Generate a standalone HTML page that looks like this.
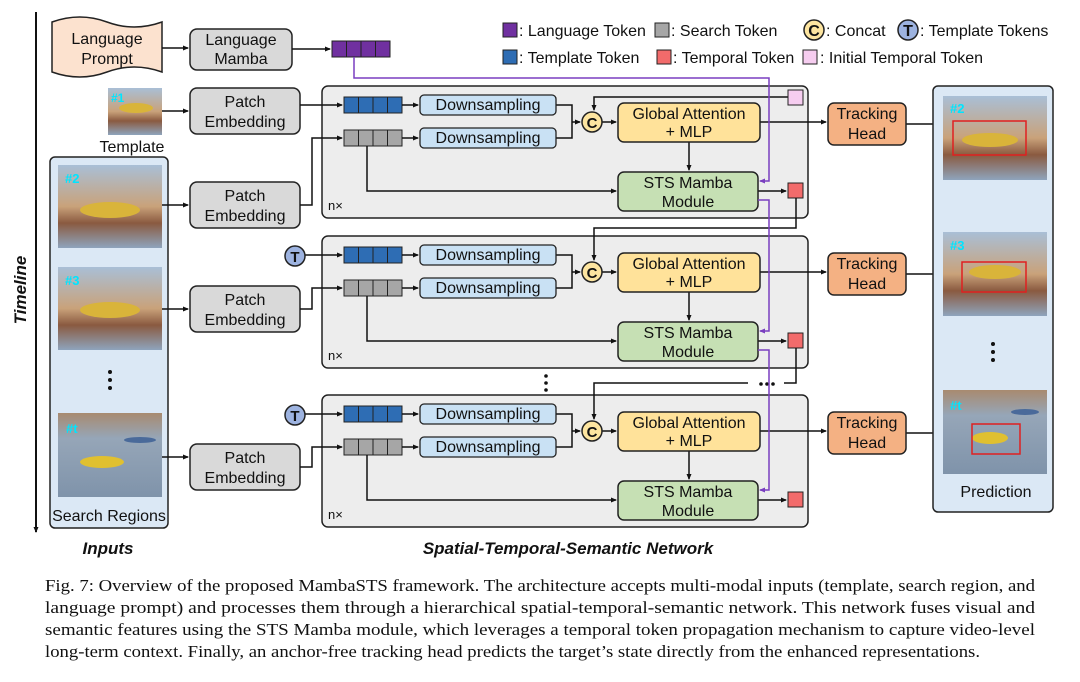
<!DOCTYPE html>
<html><head><meta charset="utf-8"><style>
html,body{margin:0;padding:0;background:#fff;}
svg{display:block;}
text{font-family:"Liberation Sans",sans-serif;fill:#111;}
.t{font-size:16px;text-anchor:middle;}
.cap{font-family:"Liberation Serif",serif;font-size:16.5px;}
</style></head><body>
<svg width="1080" height="682" viewBox="0 0 1080 682" xmlns="http://www.w3.org/2000/svg">
<defs>
<marker id="a" markerWidth="6" markerHeight="6" refX="5" refY="3" orient="auto" markerUnits="userSpaceOnUse"><path d="M0,0.5 L6,3 L0,5.5z" fill="#111"/></marker>
<marker id="ap" markerWidth="6" markerHeight="6" refX="5" refY="3" orient="auto" markerUnits="userSpaceOnUse"><path d="M0,0.5 L6,3 L0,5.5z" fill="#7a3fc0"/></marker>
<linearGradient id="sky1" x1="0" y1="0" x2="0" y2="1"><stop offset="0" stop-color="#a9bfd6"/><stop offset="0.5" stop-color="#c9a27a"/><stop offset="0.7" stop-color="#8a5a40"/><stop offset="1" stop-color="#8ea4bc"/></linearGradient>
<linearGradient id="sky2" x1="0" y1="0" x2="0" y2="1"><stop offset="0" stop-color="#a88a70"/><stop offset="0.3" stop-color="#96a6b8"/><stop offset="1" stop-color="#7f93aa"/></linearGradient>
</defs>

<line x1="36" y1="12" x2="36" y2="532" stroke="#111" stroke-width="2" marker-end="url(#a)"/>
<text transform="translate(26,290) rotate(-90)" style="font-size:17px;font-weight:bold;font-style:italic;text-anchor:middle">Timeline</text>

<path d="M52,22 Q80,12 107,22 Q134,32 162,22 L162,72 Q134,62 107,72 Q80,82 52,72 Z" fill="#fce2cf" stroke="#222" stroke-width="1.5"/>
<text class="t" x="107" y="44">Language</text>
<text class="t" x="107" y="64">Prompt</text>
<line x1="162" y1="48" x2="188" y2="48" stroke="#111" stroke-width="1.5" marker-end="url(#a)"/>
<rect x="190" y="29" width="102" height="41" rx="7" fill="#d9d9d9" stroke="#222" stroke-width="1.5"/>
<text class="t" x="241" y="45">Language</text>
<text class="t" x="241" y="64">Mamba</text>
<line x1="292" y1="49" x2="330" y2="49" stroke="#111" stroke-width="1.5" marker-end="url(#a)"/>
<g fill="#7030a0" stroke="#222" stroke-width="1"><rect x="332" y="41" width="14.5" height="16"/><rect x="346.5" y="41" width="14.5" height="16"/><rect x="361" y="41" width="14.5" height="16"/><rect x="375.5" y="41" width="14.5" height="16"/></g>

<g style="font-size:16px">
<rect x="503" y="23" width="14" height="14" fill="#7030a0" stroke="#222"/><text x="519" y="36">: Language Token</text>
<rect x="655" y="23" width="14" height="14" fill="#a6a6a6" stroke="#222"/><text x="671" y="36">: Search Token</text>
<circle cx="814" cy="30" r="10" fill="#fde5a0" stroke="#222" stroke-width="1.5"/><text x="814" y="36" style="font-weight:bold;text-anchor:middle">C</text><text x="826" y="36">: Concat</text>
<circle cx="908" cy="30" r="10" fill="#9db3e0" stroke="#222" stroke-width="1.5"/><text x="908" y="36" style="font-weight:bold;text-anchor:middle">T</text><text x="920" y="36">: Template Tokens</text>
<rect x="503" y="50" width="14" height="14" fill="#2e6db4" stroke="#222"/><text x="519" y="63">: Template Token</text>
<rect x="657" y="50" width="14" height="14" fill="#f26b6b" stroke="#222"/><text x="673" y="63">: Temporal Token</text>
<rect x="803" y="50" width="14" height="14" fill="#f6cdf0" stroke="#222"/><text x="820" y="63">: Initial Temporal Token</text>
</g>

<rect x="108" y="88" width="54" height="47" fill="url(#sky1)"/>
<ellipse cx="136" cy="108" rx="17" ry="5" fill="#d9b43a"/>
<text x="111" y="102" style="font-size:12px;font-weight:bold;fill:#00e5ff">#1</text>
<text class="t" x="132" y="152">Template</text>
<line x1="162" y1="111" x2="188" y2="111" stroke="#111" stroke-width="1.5" marker-end="url(#a)"/>

<rect x="50" y="157" width="118" height="371" rx="5" fill="#dbe8f5" stroke="#222" stroke-width="1.5"/>
<rect x="58" y="165" width="104" height="83" fill="url(#sky1)"/>
<ellipse cx="110" cy="210" rx="30" ry="8" fill="#d9b43a"/>
<text x="65" y="183" style="font-size:13px;font-weight:bold;fill:#00e5ff">#2</text>
<rect x="58" y="267" width="104" height="83" fill="url(#sky1)"/>
<ellipse cx="110" cy="310" rx="30" ry="8" fill="#d9b43a"/>
<text x="65" y="285" style="font-size:13px;font-weight:bold;fill:#00e5ff">#3</text>
<g fill="#111"><circle cx="110" cy="372" r="2"/><circle cx="110" cy="380" r="2"/><circle cx="110" cy="388" r="2"/></g>
<rect x="58" y="413" width="104" height="84" fill="url(#sky2)"/>
<ellipse cx="102" cy="462" rx="22" ry="6" fill="#e0c030"/>
<ellipse cx="140" cy="440" rx="16" ry="3" fill="#4a6a9a"/>
<text x="66" y="433" style="font-size:13px;font-weight:bold;fill:#00e5ff">#t</text>
<text class="t" x="109" y="521">Search Regions</text>
<g stroke="#111" stroke-width="1.5">
<line x1="162" y1="205" x2="188" y2="205" marker-end="url(#a)"/>
<line x1="162" y1="309" x2="188" y2="309" marker-end="url(#a)"/>
<line x1="162" y1="457" x2="188" y2="457" marker-end="url(#a)"/>
</g>

<g fill="#d9d9d9" stroke="#222" stroke-width="1.5">
<rect x="190" y="88" width="110" height="46" rx="7"/>
<rect x="190" y="182" width="110" height="46" rx="7"/>
<rect x="190" y="286" width="110" height="46" rx="7"/>
<rect x="190" y="444" width="110" height="46" rx="7"/>
</g>
<text class="t" x="245" y="107">Patch</text><text class="t" x="245" y="127">Embedding</text>
<text class="t" x="245" y="201">Patch</text><text class="t" x="245" y="221">Embedding</text>
<text class="t" x="245" y="305">Patch</text><text class="t" x="245" y="325">Embedding</text>
<text class="t" x="245" y="463">Patch</text><text class="t" x="245" y="483">Embedding</text>

<g>
<rect x="322" y="86" width="486" height="132" rx="6" fill="#ededed" stroke="#222" stroke-width="1.5"/>
<g fill="#2e6db4" stroke="#222" stroke-width="1"><rect x="344" y="97" width="14.5" height="16"/><rect x="358.5" y="97" width="14.5" height="16"/><rect x="373" y="97" width="14.5" height="16"/><rect x="387.5" y="97" width="14.5" height="16"/></g>
<g fill="#a6a6a6" stroke="#222" stroke-width="1"><rect x="344" y="130" width="14.5" height="16"/><rect x="358.5" y="130" width="14.5" height="16"/><rect x="373" y="130" width="14.5" height="16"/><rect x="387.5" y="130" width="14.5" height="16"/></g>
<g stroke="#111" stroke-width="1.5" fill="none">
<line x1="402" y1="105" x2="418" y2="105" marker-end="url(#a)"/>
<line x1="402" y1="138" x2="418" y2="138" marker-end="url(#a)"/>
<path d="M556,105 H572 V138 H556"/>
<line x1="572" y1="122" x2="580" y2="122" marker-end="url(#a)"/>
<line x1="602" y1="122" x2="616" y2="122" marker-end="url(#a)"/>
<line x1="689" y1="142" x2="689" y2="170" marker-end="url(#a)"/>
<path d="M367,146 V191 H616" marker-end="url(#a)"/>
<line x1="758" y1="191" x2="786" y2="191" marker-end="url(#a)"/>
<line x1="760" y1="122" x2="826" y2="122" marker-end="url(#a)"/>
<line x1="906" y1="124" x2="941" y2="124" marker-end="url(#a)"/>
</g>
<rect x="420" y="95" width="136" height="20" rx="4" fill="#c9e1f4" stroke="#222" stroke-width="1.3"/>
<rect x="420" y="128" width="136" height="20" rx="4" fill="#c9e1f4" stroke="#222" stroke-width="1.3"/>
<text class="t" x="488" y="110">Downsampling</text>
<text class="t" x="488" y="143">Downsampling</text>
<circle cx="592" cy="122" r="10" fill="#fde5a0" stroke="#222" stroke-width="1.5"/>
<text x="592" y="128" style="font-size:15px;font-weight:bold;text-anchor:middle">C</text>
<rect x="618" y="103" width="142" height="39" rx="6" fill="#ffe29a" stroke="#222" stroke-width="1.5"/>
<text class="t" x="689" y="119">Global Attention</text><text class="t" x="689" y="137">+ MLP</text>
<rect x="618" y="172" width="140" height="39" rx="6" fill="#c6e0b4" stroke="#222" stroke-width="1.5"/>
<text class="t" x="688" y="188">STS Mamba</text><text class="t" x="688" y="207">Module</text>
<rect x="788" y="183" width="15" height="15" fill="#f26b6b" stroke="#222"/>
<rect x="828" y="103" width="78" height="42" rx="6" fill="#f4b183" stroke="#222" stroke-width="1.5"/>
<text class="t" x="867" y="119">Tracking</text><text class="t" x="867" y="139">Head</text>
<text x="328" y="210" style="font-size:13px">n×</text>
</g>
<g transform="translate(0,150)">
<rect x="322" y="86" width="486" height="132" rx="6" fill="#ededed" stroke="#222" stroke-width="1.5"/>
<g fill="#2e6db4" stroke="#222" stroke-width="1"><rect x="344" y="97" width="14.5" height="16"/><rect x="358.5" y="97" width="14.5" height="16"/><rect x="373" y="97" width="14.5" height="16"/><rect x="387.5" y="97" width="14.5" height="16"/></g>
<g fill="#a6a6a6" stroke="#222" stroke-width="1"><rect x="344" y="130" width="14.5" height="16"/><rect x="358.5" y="130" width="14.5" height="16"/><rect x="373" y="130" width="14.5" height="16"/><rect x="387.5" y="130" width="14.5" height="16"/></g>
<g stroke="#111" stroke-width="1.5" fill="none">
<line x1="402" y1="105" x2="418" y2="105" marker-end="url(#a)"/>
<line x1="402" y1="138" x2="418" y2="138" marker-end="url(#a)"/>
<path d="M556,105 H572 V138 H556"/>
<line x1="572" y1="122" x2="580" y2="122" marker-end="url(#a)"/>
<line x1="602" y1="122" x2="616" y2="122" marker-end="url(#a)"/>
<line x1="689" y1="142" x2="689" y2="170" marker-end="url(#a)"/>
<path d="M367,146 V191 H616" marker-end="url(#a)"/>
<line x1="758" y1="191" x2="786" y2="191" marker-end="url(#a)"/>
<line x1="760" y1="122" x2="826" y2="122" marker-end="url(#a)"/>
<line x1="906" y1="124" x2="941" y2="124" marker-end="url(#a)"/>
<line x1="305" y1="105" x2="342" y2="105" marker-end="url(#a)"/>
</g>
<rect x="420" y="95" width="136" height="20" rx="4" fill="#c9e1f4" stroke="#222" stroke-width="1.3"/>
<rect x="420" y="128" width="136" height="20" rx="4" fill="#c9e1f4" stroke="#222" stroke-width="1.3"/>
<text class="t" x="488" y="110">Downsampling</text>
<text class="t" x="488" y="143">Downsampling</text>
<circle cx="592" cy="122" r="10" fill="#fde5a0" stroke="#222" stroke-width="1.5"/>
<text x="592" y="128" style="font-size:15px;font-weight:bold;text-anchor:middle">C</text>
<rect x="618" y="103" width="142" height="39" rx="6" fill="#ffe29a" stroke="#222" stroke-width="1.5"/>
<text class="t" x="689" y="119">Global Attention</text><text class="t" x="689" y="137">+ MLP</text>
<rect x="618" y="172" width="140" height="39" rx="6" fill="#c6e0b4" stroke="#222" stroke-width="1.5"/>
<text class="t" x="688" y="188">STS Mamba</text><text class="t" x="688" y="207">Module</text>
<rect x="788" y="183" width="15" height="15" fill="#f26b6b" stroke="#222"/>
<rect x="828" y="103" width="78" height="42" rx="6" fill="#f4b183" stroke="#222" stroke-width="1.5"/>
<text class="t" x="867" y="119">Tracking</text><text class="t" x="867" y="139">Head</text>
<text x="328" y="210" style="font-size:13px">n×</text>
<circle cx="295" cy="106" r="10" fill="#9db3e0" stroke="#222" stroke-width="1.5"/>
<text x="295" y="112" style="font-size:15px;font-weight:bold;text-anchor:middle">T</text>
</g>
<g transform="translate(0,309)">
<rect x="322" y="86" width="486" height="132" rx="6" fill="#ededed" stroke="#222" stroke-width="1.5"/>
<g fill="#2e6db4" stroke="#222" stroke-width="1"><rect x="344" y="97" width="14.5" height="16"/><rect x="358.5" y="97" width="14.5" height="16"/><rect x="373" y="97" width="14.5" height="16"/><rect x="387.5" y="97" width="14.5" height="16"/></g>
<g fill="#a6a6a6" stroke="#222" stroke-width="1"><rect x="344" y="130" width="14.5" height="16"/><rect x="358.5" y="130" width="14.5" height="16"/><rect x="373" y="130" width="14.5" height="16"/><rect x="387.5" y="130" width="14.5" height="16"/></g>
<g stroke="#111" stroke-width="1.5" fill="none">
<line x1="402" y1="105" x2="418" y2="105" marker-end="url(#a)"/>
<line x1="402" y1="138" x2="418" y2="138" marker-end="url(#a)"/>
<path d="M556,105 H572 V138 H556"/>
<line x1="572" y1="122" x2="580" y2="122" marker-end="url(#a)"/>
<line x1="602" y1="122" x2="616" y2="122" marker-end="url(#a)"/>
<line x1="689" y1="142" x2="689" y2="170" marker-end="url(#a)"/>
<path d="M367,146 V191 H616" marker-end="url(#a)"/>
<line x1="758" y1="191" x2="786" y2="191" marker-end="url(#a)"/>
<line x1="760" y1="122" x2="826" y2="122" marker-end="url(#a)"/>
<line x1="906" y1="124" x2="941" y2="124" marker-end="url(#a)"/>
<line x1="305" y1="105" x2="342" y2="105" marker-end="url(#a)"/>
</g>
<rect x="420" y="95" width="136" height="20" rx="4" fill="#c9e1f4" stroke="#222" stroke-width="1.3"/>
<rect x="420" y="128" width="136" height="20" rx="4" fill="#c9e1f4" stroke="#222" stroke-width="1.3"/>
<text class="t" x="488" y="110">Downsampling</text>
<text class="t" x="488" y="143">Downsampling</text>
<circle cx="592" cy="122" r="10" fill="#fde5a0" stroke="#222" stroke-width="1.5"/>
<text x="592" y="128" style="font-size:15px;font-weight:bold;text-anchor:middle">C</text>
<rect x="618" y="103" width="142" height="39" rx="6" fill="#ffe29a" stroke="#222" stroke-width="1.5"/>
<text class="t" x="689" y="119">Global Attention</text><text class="t" x="689" y="137">+ MLP</text>
<rect x="618" y="172" width="140" height="39" rx="6" fill="#c6e0b4" stroke="#222" stroke-width="1.5"/>
<text class="t" x="688" y="188">STS Mamba</text><text class="t" x="688" y="207">Module</text>
<rect x="788" y="183" width="15" height="15" fill="#f26b6b" stroke="#222"/>
<rect x="828" y="103" width="78" height="42" rx="6" fill="#f4b183" stroke="#222" stroke-width="1.5"/>
<text class="t" x="867" y="119">Tracking</text><text class="t" x="867" y="139">Head</text>
<text x="328" y="210" style="font-size:13px">n×</text>
<circle cx="295" cy="106" r="10" fill="#9db3e0" stroke="#222" stroke-width="1.5"/>
<text x="295" y="112" style="font-size:15px;font-weight:bold;text-anchor:middle">T</text>
</g>

<g stroke="#111" stroke-width="1.5" fill="none">
<line x1="300" y1="105" x2="342" y2="105" marker-end="url(#a)"/>
<path d="M300,205 H312 V138 H342" marker-end="url(#a)"/>
<path d="M300,309 H312 V288 H342" marker-end="url(#a)"/>
<path d="M300,467 H312 V447 H342" marker-end="url(#a)"/>
<path d="M788,97 H594 V110" marker-end="url(#a)"/>
<path d="M796,198 V228 H594 V260" marker-end="url(#a)"/>
<path d="M796,348 V383 H784"/>
<path d="M748,383 H594 V419" marker-end="url(#a)"/>
</g>
<rect x="788" y="90" width="15" height="15" fill="#f6cdf0" stroke="#222"/>
<g fill="#111"><circle cx="761" cy="384" r="1.8"/><circle cx="767" cy="384" r="1.8"/><circle cx="773" cy="384" r="1.8"/>
<circle cx="546" cy="376" r="1.8"/><circle cx="546" cy="383" r="1.8"/><circle cx="546" cy="390" r="1.8"/></g>

<g stroke="#7a3fc0" stroke-width="1.5" fill="none">
<path d="M354,57 V78 H769 V181 H760" marker-end="url(#ap)"/>
<path d="M758,200 H769 V331 H760" marker-end="url(#ap)"/>
<path d="M758,350 H769 V490 H760" marker-end="url(#ap)"/>
</g>

<rect x="933" y="86" width="120" height="426" rx="5" fill="#dbe8f5" stroke="#222" stroke-width="1.5"/>
<rect x="943" y="96" width="104" height="84" fill="url(#sky1)"/>
<ellipse cx="990" cy="140" rx="28" ry="7" fill="#d9b43a"/>
<rect x="953" y="121" width="73" height="34" fill="none" stroke="#e02020" stroke-width="1.5"/>
<text x="950" y="113" style="font-size:13px;font-weight:bold;fill:#00e5ff">#2</text>
<rect x="943" y="232" width="104" height="84" fill="url(#sky1)"/>
<ellipse cx="995" cy="272" rx="26" ry="7" fill="#d9b43a"/>
<rect x="962" y="262" width="64" height="30" fill="none" stroke="#e02020" stroke-width="1.5"/>
<text x="950" y="250" style="font-size:13px;font-weight:bold;fill:#00e5ff">#3</text>
<g fill="#111"><circle cx="993" cy="344" r="2"/><circle cx="993" cy="352" r="2"/><circle cx="993" cy="360" r="2"/></g>
<rect x="943" y="390" width="104" height="84" fill="url(#sky2)"/>
<ellipse cx="990" cy="438" rx="18" ry="6" fill="#e0c030"/>
<ellipse cx="1025" cy="412" rx="14" ry="3" fill="#4a6a9a"/>
<rect x="972" y="424" width="48" height="30" fill="none" stroke="#e02020" stroke-width="1.5"/>
<text x="950" y="410" style="font-size:13px;font-weight:bold;fill:#00e5ff">#t</text>
<text class="t" x="996" y="497">Prediction</text>

<text x="108" y="554" style="font-size:17px;font-weight:bold;font-style:italic;text-anchor:middle">Inputs</text>
<text x="568" y="554" style="font-size:17px;font-weight:bold;font-style:italic;text-anchor:middle">Spatial-Temporal-Semantic Network</text>

<text class="cap" x="45" y="591" textLength="990" lengthAdjust="spacingAndGlyphs">Fig. 7: Overview of the proposed MambaSTS framework. The architecture accepts multi-modal inputs (template, search region, and</text>
<text class="cap" x="45" y="613" textLength="990" lengthAdjust="spacingAndGlyphs">language prompt) and processes them through a hierarchical spatial-temporal-semantic network. This network fuses visual and</text>
<text class="cap" x="45" y="635" textLength="990" lengthAdjust="spacingAndGlyphs">semantic features using the STS Mamba module, which leverages a temporal token propagation mechanism to capture video-level</text>
<text class="cap" x="45" y="657" textLength="935" lengthAdjust="spacingAndGlyphs">long-term context. Finally, an anchor-free tracking head predicts the target’s state directly from the enhanced representations.</text>
</svg>
</body></html>
